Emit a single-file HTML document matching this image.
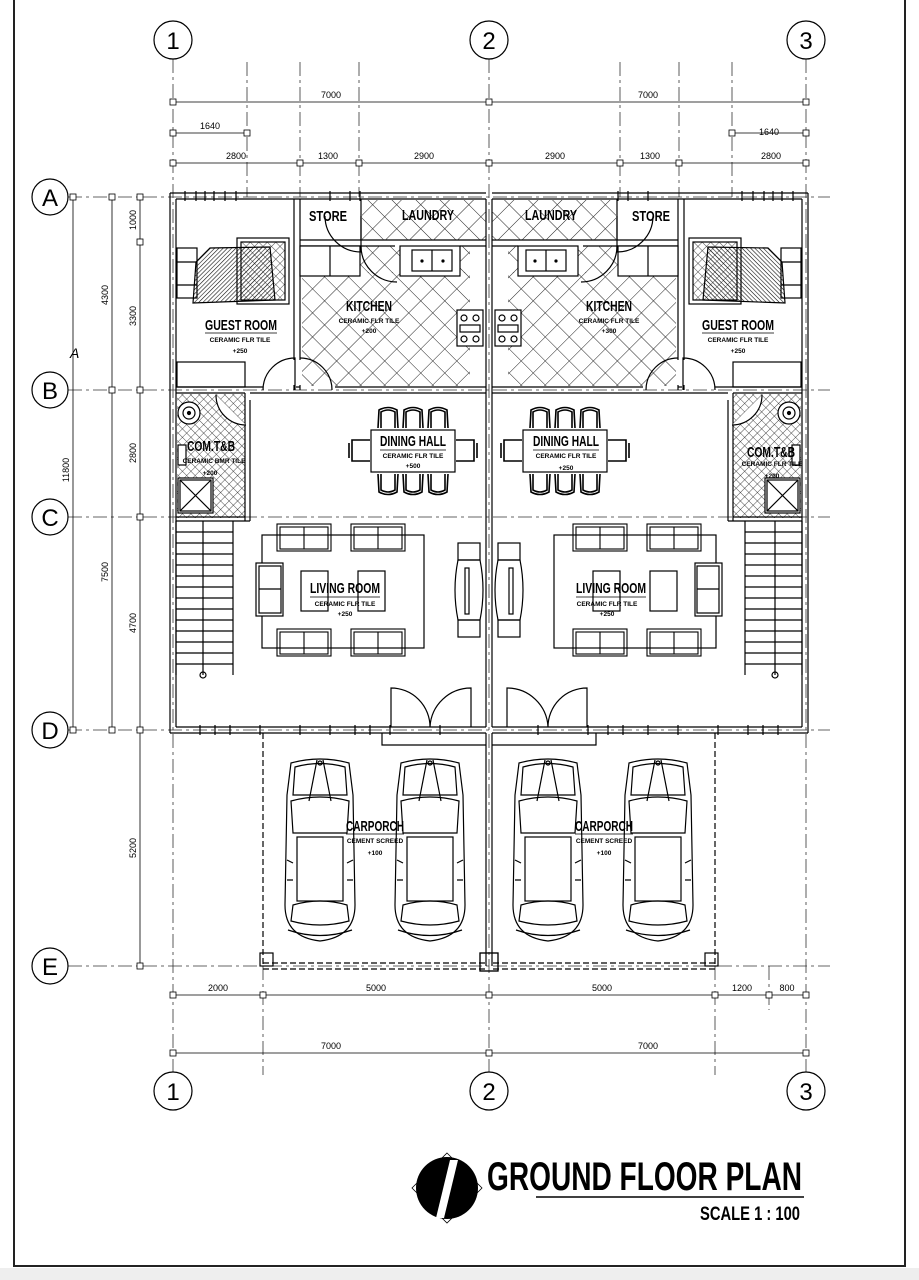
<!DOCTYPE html>
<html><head><meta charset="utf-8"><style>
html,body{margin:0;padding:0;background:#fff;}
svg{display:block;}
text{font-family:"Liberation Sans",sans-serif;fill:#000;}
</style></head><body>
<svg width="919" height="1280" viewBox="0 0 919 1280" xmlns="http://www.w3.org/2000/svg">
<defs>
<pattern id="xh" width="17" height="17" patternUnits="userSpaceOnUse" patternTransform="rotate(45)">
<line x1="0" y1="0" x2="0" y2="17" stroke="#222" stroke-width="1"/>
<line x1="0" y1="0" x2="17" y2="0" stroke="#222" stroke-width="1"/>
</pattern>
<pattern id="sm" width="6" height="6" patternUnits="userSpaceOnUse" patternTransform="rotate(45)">
<line x1="0" y1="0" x2="0" y2="6" stroke="#222" stroke-width="0.8"/>
<line x1="0" y1="0" x2="6" y2="0" stroke="#222" stroke-width="0.8"/>
</pattern>
<pattern id="hh" width="3" height="3" patternUnits="userSpaceOnUse" patternTransform="rotate(45)">
<line x1="0" y1="0" x2="0" y2="3" stroke="#111" stroke-width="1.2"/>
</pattern>
<g id="car" fill="none" stroke="#000" stroke-width="1.2">
<path d="M6,8 Q35,0 64,8 L68,40 L70,150 Q70,182 35,186 Q0,182 0,150 L2,40 Z"/>
<path d="M10,12 Q35,5 60,12 L62,40 L8,40 Z"/>
<path d="M32,5 L24,46 M38,5 L46,46"/>
<path d="M6,46 Q35,38 64,46 L62,78 L8,78 Z"/>
<rect x="12" y="82" width="46" height="64"/>
<path d="M8,150 Q35,142 62,150 L64,166 Q35,174 6,166 Z"/>
<path d="M3,175 Q35,186 67,175"/>
<path d="M2,105 L8,108 M68,105 L62,108 M2,125 L8,125 M68,125 L62,125"/>
<circle cx="35" cy="8" r="2"/>
</g>
<g id="chair" fill="none" stroke="#000" stroke-width="1.6">
<path d="M0,22 L1,4 Q10,-1 19,4 L20,22"/><path d="M3,22 L3,6 Q10,2 17,6 L17,22"/>
</g>
<g id="sofa" fill="none" stroke="#000" stroke-width="1.1">
<rect x="0" y="0" width="54" height="27"/><rect x="3" y="3" width="48" height="22"/><line x1="27" y1="3" x2="27" y2="25"/>
</g>
<g id="half" fill="none" stroke="#000" stroke-width="1.2">
<path d="M170,193 H486 M176,199 H486 M170,193 V733 M176,199 V727 M176,727 H486 M170,733 H486 M486,199 V727"/>
<path d="M185,191 v10 M196,191 v10 M205,191 v10 M214,191 v10 M225,191 v10 M236,191 v10 M330,191 v10 M350,191 v10 M360,191 v10"/>
<path d="M200,725 v10 M215,725 v10 M230,725 v10 M260,725 v10 M300,725 v10 M330,725 v10 M355,725 v10 M370,725 v10 M390,725 v10 M440,725 v10"/>
<path d="M294,199 V360 M300,199 V360 M294,385 V390 M300,385 V390"/>
<path d="M176,387 H263 M176,393 H245 M296,387 H300 M335,387 H486 M250,393 H486"/>
<path d="M300,240 H486 M300,246 H395 M460,246 H486 M361,199 V240"/>
<rect x="362" y="200" width="124" height="40" fill="url(#xh)" stroke="none"/>
<rect x="302" y="272" width="168" height="114" fill="url(#xh)" stroke="none"/>
<rect x="355" y="246" width="115" height="27" fill="url(#xh)" stroke="none"/>
<rect x="300" y="246" width="60" height="30" fill="#fff"/>
<line x1="330" y1="246" x2="330" y2="276"/>
<rect x="400" y="246" width="60" height="30" fill="#fff"/>
<rect x="412" y="250" width="40" height="21"/><line x1="432" y1="250" x2="432" y2="271"/>
<circle cx="422" cy="261" r="1" fill="#000"/><circle cx="443" cy="261" r="1" fill="#000"/>
<rect x="457" y="310" width="26" height="36" fill="#fff"/>
<circle cx="464" cy="318" r="3"/><circle cx="476" cy="318" r="3"/><circle cx="464" cy="339" r="3"/><circle cx="476" cy="339" r="3"/>
<rect x="460" y="325" width="20" height="7"/>
<path d="M325,216 A36,36 0 0 0 361,252 V216"/>
<path d="M361,246 A36,36 0 0 0 397,282"/>
<rect x="177" y="248" width="20" height="50"/><line x1="177" y1="262" x2="197" y2="262"/><line x1="177" y1="285" x2="197" y2="285"/>
<rect x="237" y="238" width="52" height="66"/><rect x="241" y="242" width="44" height="58" fill="url(#sm)"/>
<path d="M196,262 L210,248 L270,247 L275,300 L193,303 Z" fill="url(#hh)" stroke="#000"/>
<rect x="177" y="362" width="68" height="25"/>
<path d="M263,390 A32,32 0 0 1 295,358 V390"/>
<path d="M300,358 A32,32 0 0 1 332,390"/>
<rect x="177" y="394" width="68" height="124" fill="url(#sm)" stroke="none"/>
<path d="M245,393 V521 M250,400 V521 M176,517 H245 M176,521 H250"/>
<path d="M216,395 A30,30 0 0 0 246,425" fill="#fff"/>
<circle cx="189" cy="413" r="11" fill="#fff"/><circle cx="189" cy="413" r="6"/><circle cx="189" cy="413" r="1.5" fill="#000"/>
<rect x="178" y="478" width="35" height="35" fill="#fff"/><rect x="180" y="480" width="31" height="31"/><path d="M180,480 L211,511 M211,480 L180,511"/>
<rect x="178" y="445" width="8" height="20" fill="#fff"/>
<path d="M176,521 V675 M233,521 V675"/>
<path d="M176,532 H233 M176,543 H233 M176,554 H233 M176,565 H233 M176,576 H233 M176,587 H233 M176,598 H233 M176,609 H233 M176,620 H233 M176,631 H233 M176,642 H233 M176,653 H233 M176,664 H233 M203,521 V675"/>
<circle cx="203" cy="675" r="3"/>
<rect x="371" y="430" width="84" height="42"/>
<use href="#chair" x="378" y="406"/><use href="#chair" x="403" y="406"/><use href="#chair" x="428" y="406"/>
<g transform="translate(0,902) scale(1,-1)"><use href="#chair" x="378" y="406"/><use href="#chair" x="403" y="406"/><use href="#chair" x="428" y="406"/></g>
<path d="M370,440 H352 V461 H370 M349,443 V458" stroke-width="1.6"/>
<path d="M456,440 H474 V461 H456 M477,443 V458" stroke-width="1.6"/>
<rect x="262" y="535" width="162" height="113"/>
<use href="#sofa" x="277" y="524"/><use href="#sofa" x="351" y="524"/>
<use href="#sofa" x="277" y="629"/><use href="#sofa" x="351" y="629"/>
<rect x="256" y="563" width="27" height="53" fill="#fff"/><rect x="259" y="566" width="22" height="47"/><line x1="259" y1="589" x2="281" y2="589"/>
<rect x="301" y="571" width="27" height="40" fill="#fff"/><rect x="358" y="571" width="27" height="40" fill="#fff"/>
<rect x="458" y="543" width="22" height="17"/><rect x="458" y="620" width="22" height="17"/>
<path d="M458,560 Q452,590 458,620 H480 Q486,590 480,560 Z"/><rect x="465" y="568" width="4" height="46"/>
<path d="M391,727 V688 A39,39 0 0 1 430,727 M471,727 V688 A41,41 0 0 0 430,727"/>
<path d="M263,733 V966 M263,963 H486 M263,969 H486" stroke-dasharray="6,3"/>
<rect x="260" y="953" width="13" height="13"/><rect x="480" y="953" width="18" height="18"/>
<path d="M382,733 V745 H486"/>
<path d="M486,733 V966"/>
<use href="#car" x="285" y="755"/><use href="#car" x="395" y="755"/>
</g>
</defs>

<rect x="0" y="1268" width="919" height="12" fill="#eee"/>
<path d="M14,0 V1266 H905 V0" fill="none" stroke="#222" stroke-width="2"/>

<g stroke="#333" stroke-width="0.8" fill="none" stroke-dasharray="14,4,3,4">
<path d="M173,59 V1072 M489,59 V1072 M806,59 V1072"/>
<path d="M68,197 H830 M68,390 H830 M68,517 H830 M68,730 H830 M68,966 H830"/>
<path d="M247,62 V197 M300,62 V197 M359,62 V197 M620,62 V197 M679,62 V197 M732,62 V197"/>
<path d="M263,966 V1075 M715,966 V1075 M769,966 V1010"/>
</g>

<use href="#half"/>
<g transform="matrix(-1 0 0 1 978 0)"><use href="#half"/></g>

<g stroke="#000" stroke-width="0.8" fill="#fff">
<path d="M173,102 H806 M173,133 H247 M732,133 H806 M173,163 H806 M173,995 H806 M173,1053 H806 M73,197 V730 M112,197 V730 M140,197 V966" fill="none"/>
<g>
<rect x="170" y="99" width="6" height="6"/><rect x="486" y="99" width="6" height="6"/><rect x="803" y="99" width="6" height="6"/>
<rect x="170" y="130" width="6" height="6"/><rect x="244" y="130" width="6" height="6"/><rect x="729" y="130" width="6" height="6"/><rect x="803" y="130" width="6" height="6"/>
<rect x="170" y="160" width="6" height="6"/><rect x="297" y="160" width="6" height="6"/><rect x="356" y="160" width="6" height="6"/><rect x="486" y="160" width="6" height="6"/><rect x="617" y="160" width="6" height="6"/><rect x="676" y="160" width="6" height="6"/><rect x="803" y="160" width="6" height="6"/>
<rect x="170" y="992" width="6" height="6"/><rect x="260" y="992" width="6" height="6"/><rect x="486" y="992" width="6" height="6"/><rect x="712" y="992" width="6" height="6"/><rect x="766" y="992" width="6" height="6"/><rect x="803" y="992" width="6" height="6"/>
<rect x="170" y="1050" width="6" height="6"/><rect x="486" y="1050" width="6" height="6"/><rect x="803" y="1050" width="6" height="6"/>
<rect x="70" y="194" width="6" height="6"/><rect x="70" y="727" width="6" height="6"/>
<rect x="109" y="194" width="6" height="6"/><rect x="109" y="387" width="6" height="6"/><rect x="109" y="727" width="6" height="6"/>
<rect x="137" y="194" width="6" height="6"/><rect x="137" y="239" width="6" height="6"/><rect x="137" y="387" width="6" height="6"/><rect x="137" y="514" width="6" height="6"/><rect x="137" y="727" width="6" height="6"/><rect x="137" y="963" width="6" height="6"/>
</g>
</g>
<g font-size="9" text-anchor="middle">
<text x="331" y="98">7000</text><text x="648" y="98">7000</text>
<text x="210" y="129">1640</text><text x="769" y="135">1640</text>
<text x="236" y="159">2800</text><text x="328" y="159">1300</text><text x="424" y="159">2900</text><text x="555" y="159">2900</text><text x="650" y="159">1300</text><text x="771" y="159">2800</text>
<text x="218" y="991">2000</text><text x="376" y="991">5000</text><text x="602" y="991">5000</text><text x="742" y="991">1200</text><text x="787" y="991">800</text>
<text x="331" y="1049">7000</text><text x="648" y="1049">7000</text>
<text transform="translate(69,470) rotate(-90)">11800</text>
<text transform="translate(108,295) rotate(-90)">4300</text>
<text transform="translate(108,572) rotate(-90)">7500</text>
<text transform="translate(136,220) rotate(-90)">1000</text>
<text transform="translate(136,316) rotate(-90)">3300</text>
<text transform="translate(136,453) rotate(-90)">2800</text>
<text transform="translate(136,623) rotate(-90)">4700</text>
<text transform="translate(136,848) rotate(-90)">5200</text>
</g>
<text x="70" y="358" font-size="14" font-style="italic">A</text>

<g fill="#fff" stroke="#000" stroke-width="1.2">
<circle cx="173" cy="40" r="19"/><circle cx="489" cy="40" r="19"/><circle cx="806" cy="40" r="19"/>
<circle cx="173" cy="1091" r="19"/><circle cx="489" cy="1091" r="19"/><circle cx="806" cy="1091" r="19"/>
<circle cx="50" cy="197" r="18"/><circle cx="50" cy="390" r="18"/><circle cx="50" cy="517" r="18"/><circle cx="50" cy="730" r="18"/><circle cx="50" cy="966" r="18"/>
</g>
<g font-size="24" text-anchor="middle">
<text x="173" y="49">1</text><text x="489" y="49">2</text><text x="806" y="49">3</text>
<text x="173" y="1100">1</text><text x="489" y="1100">2</text><text x="806" y="1100">3</text>
<text x="50" y="206">A</text><text x="50" y="399">B</text><text x="50" y="526">C</text><text x="50" y="739">D</text><text x="50" y="975">E</text>
</g>

<g text-anchor="middle">
<g font-size="15" font-weight="bold" stroke="#fff" stroke-width="0" >
<text x="328" y="221" textLength="38" lengthAdjust="spacingAndGlyphs">STORE</text>
<text x="428" y="220" textLength="52" lengthAdjust="spacingAndGlyphs">LAUNDRY</text>
<text x="551" y="220" textLength="52" lengthAdjust="spacingAndGlyphs">LAUNDRY</text>
<text x="651" y="221" textLength="38" lengthAdjust="spacingAndGlyphs">STORE</text>
<text x="369" y="311" textLength="46" lengthAdjust="spacingAndGlyphs">KITCHEN</text>
<text x="609" y="311" textLength="46" lengthAdjust="spacingAndGlyphs">KITCHEN</text>
<text x="241" y="330" textLength="72" lengthAdjust="spacingAndGlyphs">GUEST ROOM</text>
<text x="738" y="330" textLength="72" lengthAdjust="spacingAndGlyphs">GUEST ROOM</text>
<text x="413" y="446" textLength="66" lengthAdjust="spacingAndGlyphs">DINING HALL</text>
<text x="566" y="446" textLength="66" lengthAdjust="spacingAndGlyphs">DINING HALL</text>
<text x="211" y="451" textLength="48" lengthAdjust="spacingAndGlyphs">COM.T&amp;B</text>
<text x="771" y="457" textLength="48" lengthAdjust="spacingAndGlyphs">COM.T&amp;B</text>
<text x="345" y="593" textLength="70" lengthAdjust="spacingAndGlyphs">LIVING ROOM</text>
<text x="611" y="593" textLength="70" lengthAdjust="spacingAndGlyphs">LIVING ROOM</text>
<text x="375" y="831" textLength="58" lengthAdjust="spacingAndGlyphs">CARPORCH</text>
<text x="604" y="831" textLength="58" lengthAdjust="spacingAndGlyphs">CARPORCH</text>
</g>
<g stroke="#000" stroke-width="0.8">
<path d="M205,333 H277 M702,333 H774 M380,450 H446 M533,450 H599 M310,597 H380 M576,597 H646 M346,834 H404 M575,834 H633"/>
</g>
<g font-size="6.5" font-weight="bold">
<text x="369" y="323">CERAMIC FLR TILE</text><text x="369" y="333">+200</text>
<text x="609" y="323">CERAMIC FLR TILE</text><text x="609" y="333">+300</text>
<text x="240" y="342">CERAMIC FLR TILE</text><text x="240" y="353">+250</text>
<text x="738" y="342">CERAMIC FLR TILE</text><text x="738" y="353">+250</text>
<text x="413" y="458">CERAMIC FLR TILE</text><text x="413" y="468">+500</text>
<text x="566" y="458">CERAMIC FLR TILE</text><text x="566" y="470">+250</text>
<text x="214" y="463">CERAMIC BMR TILE</text><text x="210" y="475">+200</text>
<text x="772" y="466">CERAMIC FLR TILE</text><text x="772" y="478">+200</text>
<text x="345" y="606">CERAMIC FLR TILE</text><text x="345" y="616">+250</text>
<text x="607" y="606">CERAMIC FLR TILE</text><text x="607" y="616">+250</text>
<text x="375" y="843">CEMENT SCREED</text><text x="375" y="855">+100</text>
<text x="604" y="843">CEMENT SCREED</text><text x="604" y="855">+100</text>
</g>
</g>

<g>
<path d="M447,1153 L482,1188 L447,1223 L412,1188 Z" fill="none" stroke="#000" stroke-width="0.8"/>
<circle cx="447" cy="1188" r="31" fill="#000"/>
<path d="M450,1160 L458,1160 L444,1218 L436,1218 Z" fill="#fff"/>
<text x="487" y="1190" font-size="40" font-weight="bold" textLength="315" lengthAdjust="spacingAndGlyphs">GROUND FLOOR PLAN</text>
<line x1="536" y1="1197" x2="804" y2="1197" stroke="#000" stroke-width="1.4"/>
<text x="700" y="1220" font-size="19" font-weight="bold" textLength="100" lengthAdjust="spacingAndGlyphs">SCALE 1 : 100</text>
</g>
</svg>
</body></html>
